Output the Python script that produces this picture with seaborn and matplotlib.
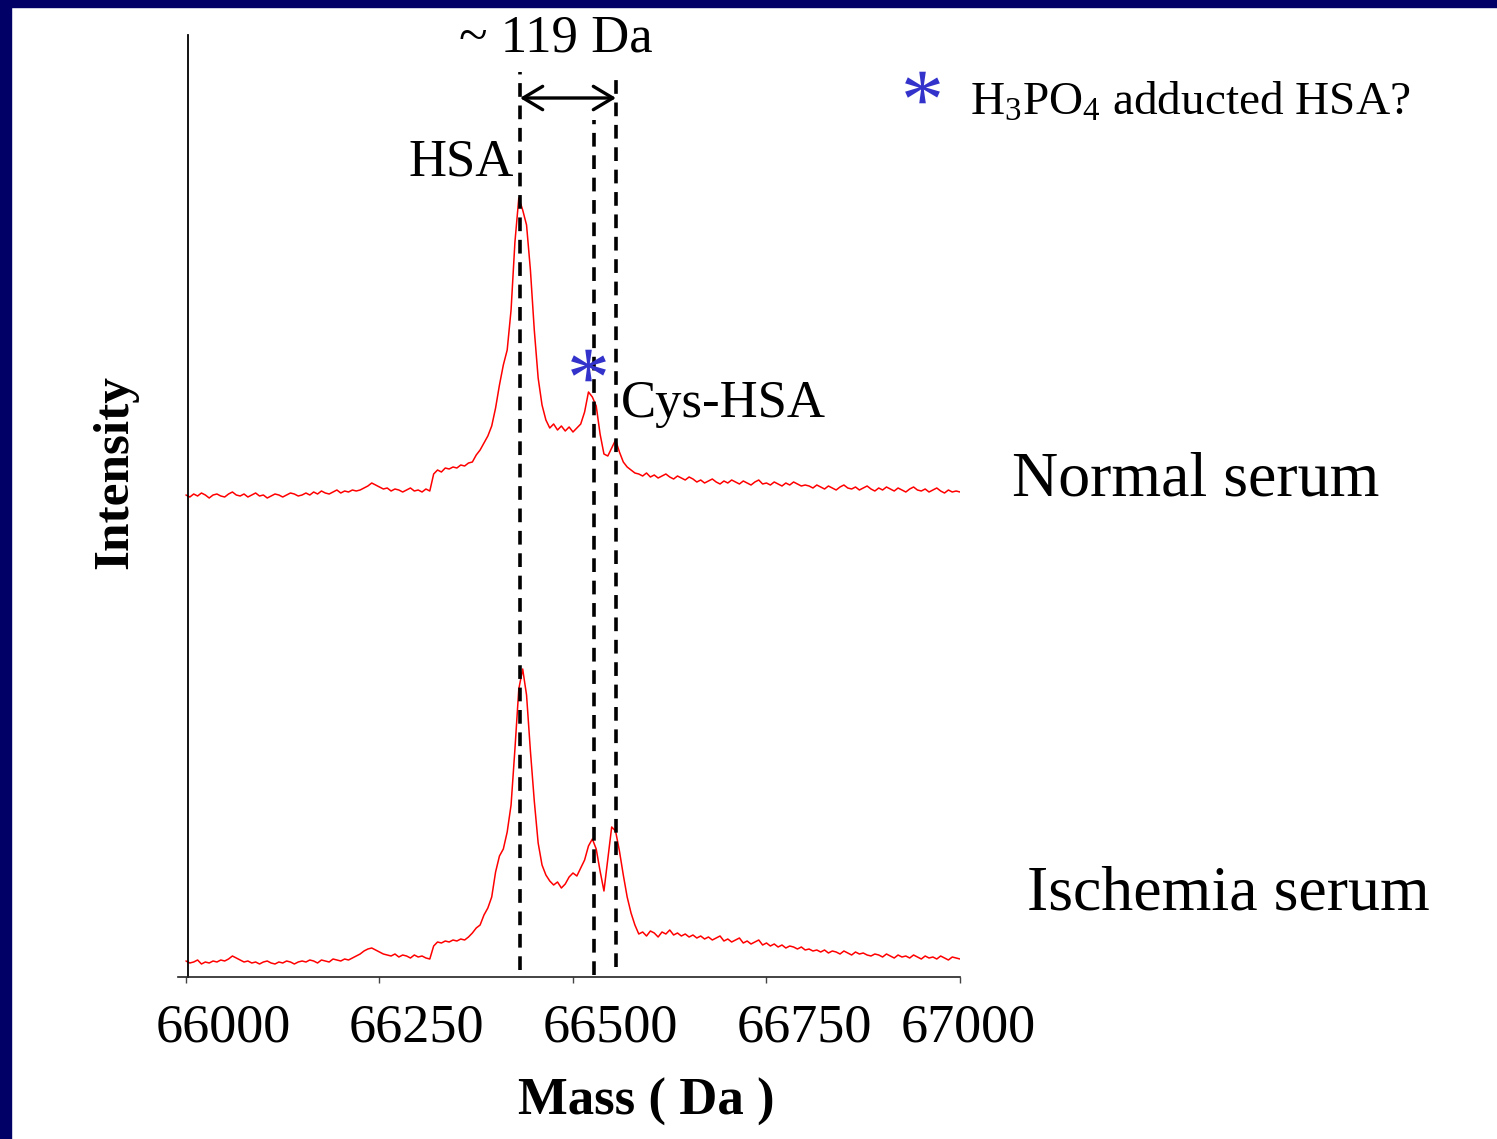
import numpy as np
import pandas as pd
import matplotlib
matplotlib.use("Agg")
import matplotlib.pyplot as plt
import seaborn as sns
from matplotlib.patches import Rectangle
from matplotlib.transforms import ScaledTranslation
from matplotlib.textpath import TextPath
from matplotlib.font_manager import FontProperties
from matplotlib.path import Path
from matplotlib.lines import Line2D

# ---------------- data ----------------
mass = np.arange(66000, 67001, 5)  # Da, 5 Da spacing

normal_serum = [
    15, 13, 16, 14, 17, 15, 12, 15, 16, 14, 13, 16, 18, 15, 14, 16, 13, 15, 17, 14, 15, 12, 14, 16, 15, 13, 15, 17, 16, 14, 15,
    17, 15, 18, 16, 19, 17, 16, 18, 20, 17, 19, 18, 20, 19,
    20, 22, 24, 27, 25, 23, 21, 22,
    19, 21, 20, 18, 20, 22, 19, 20, 18, 21, 19,
    36,
    40, 38, 42, 41, 43, 42, 45, 44, 47, 48,
    55, 60, 67, 74, 84, 102, 125, 145, 160, 200, 268, 312, 300, 285, 240, 180, 132, 105, 90, 82,
    86, 80, 84, 79, 83, 78, 82, 86, 98, 118, 113, 104, 76, 56, 54, 62, 70, 58, 48, 43, 40, 37,
    36, 34, 37, 33, 35, 32, 34, 36, 33, 31, 34, 32, 30, 33,
    31, 28, 30, 27, 29, 31, 28, 26, 29, 27, 30, 28, 26, 29, 27, 25, 28, 30, 26, 27, 25, 28, 26, 24, 27, 25, 28, 26, 24, 25,
    24, 22, 25, 23, 21, 24, 22, 20, 23, 25, 22, 21, 23, 20, 22, 24, 21, 19, 22, 20,
    23, 21, 19, 22, 20, 18, 21, 23, 20, 19, 21, 18, 20, 22, 19, 17, 20, 18, 19, 18,
]

ischemia_serum = [
    16, 14, 15, 17, 13, 15, 14, 16, 15, 17, 16, 18, 21, 19, 17, 15, 16, 14, 15, 13, 15, 16, 14, 13, 15, 14, 16, 15, 13, 15, 16,
    15, 17, 16, 14, 17, 16, 15, 18, 17, 16, 18, 17, 19, 21,
    23, 26, 28, 29, 27, 25, 23, 22,
    21, 23, 20, 22, 21, 19, 22, 20, 21, 19, 18,
    31,
    35, 34, 36, 35, 37, 36, 38, 37, 40, 44,
    49, 52, 62, 69, 80, 105, 121, 128, 145, 172, 228, 288, 308, 282, 226, 176, 134, 112, 102, 96,
    92, 95, 89, 93, 100, 104, 101, 109, 117, 131, 138, 128, 106, 86, 118, 150, 146, 126, 102, 80, 64, 52,
    43, 45, 41, 46, 44, 40, 45, 43, 47, 42, 44, 41, 43, 40,
    42, 39, 41, 38, 40, 37, 39, 41, 36, 38, 35, 37, 39, 34, 36, 33, 35, 37, 32, 34, 31, 33, 30, 32, 29, 31, 30, 28, 30, 27,
    28, 26, 27, 25, 27, 24, 26, 25, 23, 26, 24, 22, 25, 23, 24, 22, 21, 23, 22, 20,
    23, 21, 19, 22, 20, 21, 19, 22, 20, 18, 21, 19, 20, 18, 21, 19, 17, 20, 19, 18,
]

normal_offset = 467          # vertical stacking offset of the normal-serum trace
sample_names = ["Normal serum", "Ischemia serum"]

tick_values = [66000, 66250, 66500, 66750, 67000]
tick_labels = ["66000", "66250", "66500", "66750", "67000"]

marker_masses = [66431.5, 66527.5, 66555.6]   # HSA, H3PO4 adduct, Cys-HSA
marker_ymin = [7, 2, 10]
marker_ymax = [905, 857, 905]

# ---------------- style ----------------
sns.set_theme(style="white")
plt.rcParams["font.family"] = ["Liberation Serif", "DejaVu Serif"]
plt.rcParams["text.color"] = "black"
plt.rcParams["axes.labelcolor"] = "black"
plt.rcParams["xtick.color"] = "black"
plt.rcParams["ytick.color"] = "black"
plt.rcParams["mathtext.fontset"] = "custom"
plt.rcParams["mathtext.rm"] = "Liberation Serif"
plt.rcParams["mathtext.it"] = "Liberation Serif:italic"
plt.rcParams["mathtext.bf"] = "Liberation Serif:bold"

W, H = 1497, 1139
fig = plt.figure(figsize=(W / 100, H / 100), dpi=100)
fig.patch.set_facecolor("white")

def fx(x):
    return x / W

def fy(y):
    return 1 - y / H

# navy frame (top and left)
navy = "#000066"
fig.patches.append(Rectangle((0, fy(7)), 1, 7 / H, transform=fig.transFigure, color=navy, zorder=0))
fig.patches.append(Rectangle((0, 0), 11 / W, 1, transform=fig.transFigure, color=navy, zorder=0))

ax = fig.add_axes([fx(178), fy(977), (960 - 178) / W, (977 - 35) / H])
ax.set_facecolor("white")

df = pd.DataFrame({
    "mass": np.concatenate([mass, mass]),
    "intensity": np.concatenate([np.array(normal_serum) + normal_offset, np.array(ischemia_serum)]),
    "sample": [sample_names[0]] * len(mass) + [sample_names[1]] * len(mass),
})
sns.lineplot(data=df, x="mass", y="intensity", units="sample", estimator=None, sort=False,
             color="#FF0000", lw=1.1, ax=ax, legend=False)

ax.set_xlim(65989.7, 67000)
ax.set_ylim(0, 942)

for m, lo, hi in zip(marker_masses, marker_ymin, marker_ymax):
    ax.plot([m, m], [lo, hi], color="black", lw=2.6, linestyle=(0, (3.8, 2.4)), zorder=3)

ax.annotate("", xy=(marker_masses[0], 879), xytext=(marker_masses[2], 879),
            arrowprops=dict(arrowstyle="<->,head_length=0.5,head_width=0.3", mutation_scale=28,
                            color="black", lw=2.4, shrinkA=0, shrinkB=0))

# axes styling
ax.spines["top"].set_visible(False)
ax.spines["right"].set_visible(False)
ax.spines["left"].set_position(("data", 66003))
ax.spines["left"].set_color("black")
ax.spines["left"].set_linewidth(1.3)
ax.spines["bottom"].set_color("#222222")
ax.spines["bottom"].set_linewidth(1.2)
ax.set_yticks([])
ax.set_xticks(tick_values)
ax.set_xticklabels(tick_labels, fontsize=39, color="black")
ax.tick_params(axis="x", direction="out", length=4.5, width=1.0, color="#444444", pad=14.5, bottom=True)
ax.set_xlabel("")
ax.set_ylabel("")

label_shift_px = [37, 37, 37, 38, 8]
for lab, dx in zip(ax.get_xticklabels(), label_shift_px):
    lab.set_transform(lab.get_transform() + ScaledTranslation(dx / 100, 0, fig.dpi_scale_trans))

# texts
fig.text(fx(646), fy(1115), "Mass ( Da )", fontsize=38, fontweight="bold", ha="center", va="baseline")
fig.text(fx(127), fy(472), "Intensity", fontsize=37, fontweight="bold", rotation=90,
         rotation_mode="anchor", ha="center", va="baseline")
fig.text(fx(556), fy(52), "~ 119 Da", fontsize=38, ha="center", va="baseline")
fig.text(fx(461), fy(175), "HSA", fontsize=38, ha="center", va="baseline")
fig.text(fx(621), fy(417), "Cys-HSA", fontsize=38, ha="left", va="baseline")
fig.text(fx(1012), fy(495), "Normal serum", fontsize=46, ha="left", va="baseline")
fig.text(fx(1027), fy(910), "Ischemia serum", fontsize=46, ha="left", va="baseline")
fig.text(fx(970), fy(115), r"H$_\mathrm{3}$PO$_\mathrm{4}$ adducted HSA?", fontsize=34, ha="left", va="baseline")

# blue asterisks as centred glyph-shaped markers
tp = TextPath((0, 0), "*", size=1, prop=FontProperties(family="Liberation Serif"))
verts = tp.vertices.copy()
codes = tp.codes
start = verts[0].copy()
for i, c in enumerate(codes):
    if c == Path.MOVETO:
        start = verts[i].copy()
    elif c == Path.CLOSEPOLY:
        verts[i] = start
ext = Path(verts, codes).get_extents()
star_path = Path(verts - np.array([(ext.x0 + ext.x1) / 2, (ext.y0 + ext.y1) / 2]), codes)
star_color = "#3333CC"
for (sx, sy) in [(588, 365), (922, 87)]:
    fig.add_artist(Line2D([fx(sx)], [fy(sy)], transform=fig.transFigure, marker=star_path,
                          markersize=25, color=star_color, markeredgewidth=0, linestyle="none"))

fig.savefig("out.png", dpi=100, facecolor="white")
